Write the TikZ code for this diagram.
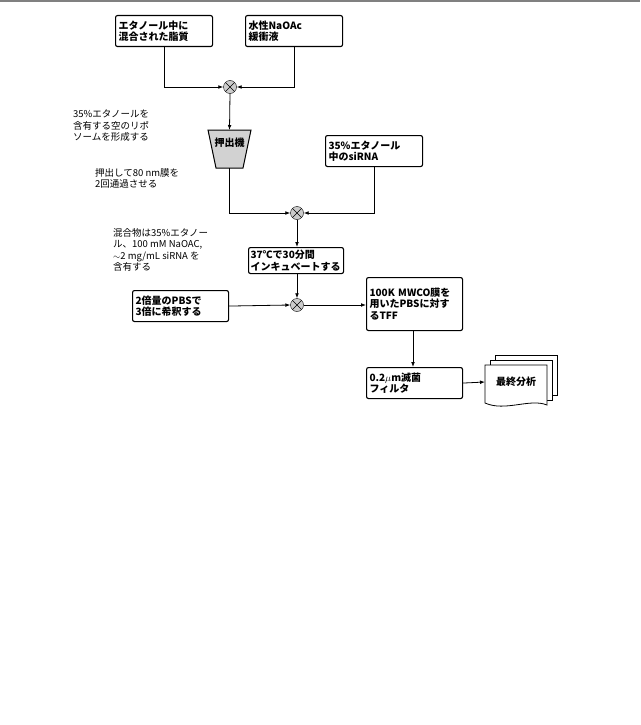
\documentclass[tikz,border=0pt]{standalone}
\usepackage{fontspec}
\setmainfont{Noto Sans CJK JP}
\usetikzlibrary{arrows.meta}
\begin{document}
\begin{tikzpicture}[x=1pt,y=-1pt,
  box/.style={draw,line width=1.1pt,rounded corners=2pt,align=left,font=\bfseries\fontsize{10}{11.5}\selectfont,inner sep=3pt,anchor=north west},
  lbl/.style={align=left,font=\fontsize{9.5}{11.5}\selectfont,anchor=north west,inner sep=0pt},
  mix/.style={draw,circle,minimum size=13pt,inner sep=0pt,fill=gray!40,path picture={\draw (path picture bounding box.north west)--(path picture bounding box.south east) (path picture bounding box.north east)--(path picture bounding box.south west);}},
  arr/.style={-{Latex[length=5pt]},line width=0.8pt}]
\useasboundingbox (0,0) rectangle (640,725);
\draw[line width=1.5pt,gray] (0,1)--(640,1);
\node[box,text width=91pt,minimum height=31pt] (b1) at (115,15) {エタノール中に\\混合された脂質};
\node[box,text width=91pt,minimum height=31pt] (b2) at (245,15) {水性NaOAc\\緩衝液};
\node[mix] (m1) at (230,87) {};
\draw[arr] (b1.south) |- (m1.west);
\draw[arr] (b2.south) |- (m1.east);
\node[lbl] (t1) at (73,110) {35\%エタノールを\\含有する空のリポ\\ソームを形成する};
\draw[line width=1pt,fill=gray!35] (208,130)--(251,130)--(243,168)--(216,168)--cycle;
\node[font=\bfseries\fontsize{10}{11}\selectfont] (ex) at (229.5,143) {押出機};
\coordinate (exb) at (229.5,168);
\draw[arr] (m1.south) -- (229.5,130);
\node[lbl] (t2) at (95,168) {押出して80 nm膜を\\2回通過させる};
\node[box,text width=91pt,minimum height=31pt] (b3) at (325,135) {35\%エタノール\\中のsiRNA};
\node[mix] (m2) at (297,213) {};
\draw[arr] (exb) |- (m2.west);
\draw[arr] (b3.south) |- (m2.east);
\node[lbl] (t3) at (113,228) {混合物は35\%エタノー\\ル、100 mM NaOAC,\\$\sim$2 mg/mL siRNA を\\含有する};
\node[box,text width=91pt,minimum height=26pt,inner sep=2pt] (b4) at (248,247) {37℃で30分間\\インキュベートする};
\draw[arr] (m2.south) -- (b4.north-|m2.south);
\node[mix] (m3) at (297,305) {};
\draw[arr] (b4.south-|m3.north) -- (m3.north);
\node[box,text width=90pt,minimum height=31pt] (b5) at (132,290) {2倍量のPBSで\\3倍に希釈する};
\draw[arr] (b5.east) -- (m3.west);
\node[box,text width=90pt,minimum height=53pt] (b6) at (366,277) {100K MWCO膜を\\用いたPBSに対す\\るTFF};
\draw[arr] (m3.east) -- (m3.east-|b6.west);
\node[box,text width=90pt,minimum height=31pt] (b7) at (366,367) {0.2$\mu$m滅菌\\フィルタ};
\draw[arr] (b6.south-|413,0) -- (413,367);
\draw[line width=0.8pt,fill=white] (495,355) rectangle (557,395);
\draw[line width=0.8pt,fill=white] (490,360) rectangle (552,400);
\draw[line width=0.8pt,fill=white] (485,365)--(547,365)--(547,405) .. controls (530,398) and (505,412) .. (485,403)--cycle;
\node[font=\bfseries\fontsize{10}{11}\selectfont] (fa) at (516,382) {最終分析};
\draw[arr] (b7.east) -- (485,382);
\end{tikzpicture}
\end{document}
